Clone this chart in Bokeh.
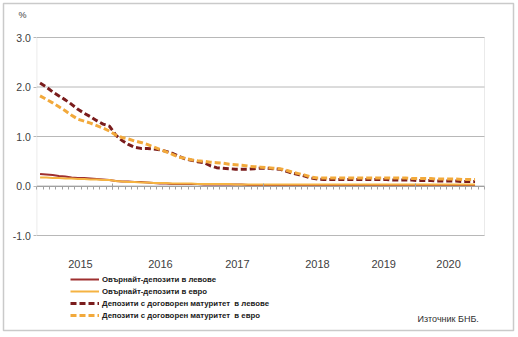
from bokeh.plotting import figure
from bokeh.models import (Range1d, LinearAxis, FixedTicker, Legend, LegendItem,
                          Label, BoxAnnotation, ColumnDataSource, NumeralTickFormatter)
from bokeh.embed import file_html
from bokeh.resources import INLINE

# month index: 0 = Jan 2015
ovn_bgn = [0.24, 0.23, 0.22, 0.20, 0.19, 0.17, 0.16, 0.16, 0.15, 0.14, 0.13, 0.12,
           0.10, 0.09, 0.09, 0.08, 0.08, 0.07, 0.06, 0.05, 0.05, 0.04, 0.04, 0.04,
           0.04, 0.04, 0.03, 0.03, 0.03, 0.03, 0.03, 0.03, 0.03, 0.02, 0.02, 0.02,
           0.02, 0.02, 0.02, 0.02, 0.02, 0.02, 0.02, 0.02, 0.02, 0.02, 0.02, 0.02,
           0.02, 0.02, 0.02, 0.02, 0.02, 0.02, 0.02, 0.02, 0.02, 0.02, 0.02, 0.02,
           0.01, 0.01, 0.01, 0.01, 0.01, 0.01, 0.01, 0.01, 0.01, 0.01]
ovn_eur = [0.17, 0.17, 0.16, 0.16, 0.15, 0.15, 0.14, 0.14, 0.13, 0.13, 0.12, 0.12,
           0.10, 0.09, 0.08, 0.08, 0.07, 0.07, 0.06, 0.06, 0.06, 0.05, 0.05, 0.05,
           0.05, 0.04, 0.04, 0.04, 0.04, 0.04, 0.04, 0.03, 0.03, 0.03, 0.03, 0.03,
           0.03, 0.03, 0.03, 0.03, 0.03, 0.03, 0.03, 0.03, 0.03, 0.03, 0.03, 0.03,
           0.03, 0.03, 0.03, 0.03, 0.03, 0.03, 0.03, 0.03, 0.03, 0.03, 0.03, 0.03,
           0.03, 0.03, 0.03, 0.03, 0.03, 0.03, 0.03, 0.03, 0.03, 0.03]
term_bgn = [2.08, 2.00, 1.90, 1.82, 1.74, 1.65, 1.55, 1.47, 1.40, 1.32, 1.25, 1.21,
            1.03, 0.92, 0.84, 0.78, 0.76, 0.76, 0.75, 0.73, 0.70, 0.66, 0.60, 0.55,
            0.52, 0.49, 0.47, 0.41, 0.37, 0.36, 0.35, 0.34, 0.34, 0.34, 0.35, 0.36,
            0.36, 0.35, 0.34, 0.30, 0.26, 0.23, 0.20, 0.16, 0.14, 0.13, 0.13, 0.13,
            0.13, 0.13, 0.13, 0.13, 0.13, 0.13, 0.13, 0.13, 0.12, 0.12, 0.12, 0.12,
            0.11, 0.11, 0.11, 0.10, 0.10, 0.10, 0.10, 0.09, 0.09, 0.09]
term_eur = [1.82, 1.75, 1.68, 1.60, 1.52, 1.43, 1.35, 1.31, 1.27, 1.22, 1.17, 1.11,
            1.03, 0.98, 0.95, 0.91, 0.88, 0.84, 0.79, 0.74, 0.69, 0.64, 0.58, 0.56,
            0.53, 0.51, 0.50, 0.48, 0.47, 0.46, 0.44, 0.43, 0.42, 0.40, 0.39, 0.38,
            0.37, 0.36, 0.35, 0.32, 0.28, 0.25, 0.22, 0.18, 0.16, 0.16, 0.16, 0.16,
            0.16, 0.16, 0.16, 0.16, 0.16, 0.16, 0.16, 0.16, 0.16, 0.16, 0.16, 0.15,
            0.15, 0.15, 0.15, 0.14, 0.14, 0.14, 0.14, 0.13, 0.13, 0.13]
months = [m + 0.5 for m in range(len(term_bgn))]

year_labels = ["2015", "2016", "2017", "2018", "2019", "2020"]
year_pos = [6.9, 19.6, 31.8, 44.5, 55.0, 65.3]
y_ticks = [-1, 0, 1, 2, 3]

series_names = ["Овърнайт-депозити в левове", "Овърнайт-депозити в евро",
                "Депозити с договорен матуритет  в левове",
                "Депозити с договорен матуритет  в евро"]

FONT = "Liberation Sans"
TXT = "#404040"
GRID = "#b8b8b8"

# plot box spans months 0..71 and values -1..3
X_LO, X_HI = 0, 71
Y_LO, Y_HI = -1, 3
W, H = 518, 337
box_l, box_r, box_t, box_b = 36.4, 484.0, 37.0, 235.0   # pixel placement of the box
sx = (box_r - box_l) / (X_HI - X_LO)
sy = (box_b - box_t) / (Y_HI - Y_LO)
x_range = Range1d(X_LO - box_l / sx, X_HI + (W - box_r) / sx)
y_range = Range1d(Y_LO - (H - box_b) / sy, Y_HI + box_t / sy)

p = figure(width=W, height=H, output_backend="svg", toolbar_location=None,
           x_range=x_range, y_range=y_range,
           min_border=0, min_border_left=0, min_border_right=0,
           min_border_top=0, min_border_bottom=0,
           x_axis_location=None, y_axis_location=None)
p.background_fill_color = "white"
p.border_fill_color = "white"
p.outline_line_color = None
p.xgrid.visible = False
p.ygrid.visible = False

# grid lines inside the box
p.segment(x0=[X_LO] * len(y_ticks), x1=[X_HI] * len(y_ticks), y0=y_ticks, y1=y_ticks,
          line_color=GRID, line_width=1)

# box outline
p.add_layout(BoxAnnotation(left=X_LO, right=X_HI, bottom=Y_LO, top=Y_HI,
                           fill_alpha=0, line_color=GRID, line_width=1))

# y axis
ya = LinearAxis(fixed_location=X_LO, ticker=FixedTicker(ticks=y_ticks),
                formatter=NumeralTickFormatter(format="0.0"), bounds=(Y_LO, Y_HI))
ya.axis_line_color = None
ya.major_tick_line_color = GRID
ya.major_tick_in = 0
ya.major_tick_out = 3
ya.minor_tick_line_color = None
ya.major_label_text_font = FONT
ya.major_label_text_font_size = "10.5px"
ya.major_label_text_color = TXT
ya.major_label_standoff = 3
p.add_layout(ya, "left")

# year labels axis
xa = LinearAxis(fixed_location=Y_LO, ticker=FixedTicker(ticks=year_pos),
                major_label_overrides={pos: lab for pos, lab in zip(year_pos, year_labels)})
xa.axis_line_color = None
xa.major_tick_line_color = None
xa.minor_tick_line_color = None
xa.major_label_text_font = FONT
xa.major_label_text_font_size = "11px"
xa.major_label_text_color = TXT
xa.major_label_standoff = 18
p.add_layout(xa, "below")

# zero axis with ticks
za = LinearAxis(fixed_location=0, bounds=(X_LO, X_HI),
                ticker=FixedTicker(ticks=[12, 36, 60], minor_ticks=list(range(X_LO, X_HI + 1))))
za.axis_line_color = "#a0a0a0"
za.major_tick_line_color = "#a0a0a0"
za.minor_tick_line_color = "#a0a0a0"
za.major_tick_in = 3
za.major_tick_out = 3
za.minor_tick_in = 0
za.minor_tick_out = 3
za.major_label_text_font_size = "0px"
za.major_label_text_alpha = 0
p.add_layout(za, "below")

src = ColumnDataSource(dict(x=months, a=ovn_bgn, b=ovn_eur, c=term_bgn, d=term_eur))
r1 = p.line("x", "a", source=src, line_color="#9e2f2f", line_width=2)
r2 = p.line("x", "b", source=src, line_color="#f5b342", line_width=2)
r3 = p.line("x", "c", source=src, line_color="#7a1c1c", line_width=3, line_dash="6 3")
r4 = p.line("x", "d", source=src, line_color="#f2a93b", line_width=3, line_dash="6 3")

legend = Legend(items=[LegendItem(label=n, renderers=[r]) for n, r in
                       zip(series_names, [r1, r2, r3, r4])],
                location=(70, 16), orientation="vertical")
legend.padding = 0
legend.spacing = 0
legend.margin = 0
legend.glyph_width = 29
legend.glyph_height = 12
legend.label_height = 12
legend.label_standoff = 3
legend.label_text_font = FONT
legend.label_text_font_size = "7.8px"
legend.label_text_font_style = "bold"
legend.label_text_color = "#202020"
legend.border_line_color = None
legend.background_fill_alpha = 0
p.add_layout(legend, "center")

p.add_layout(Label(x=18, y=318, x_units="screen", y_units="screen", text="%",
                   text_font=FONT, text_font_size="9px", text_color=TXT))
p.add_layout(Label(x=417, y=14, x_units="screen", y_units="screen", text="Източник БНБ.",
                   text_font=FONT, text_font_size="9px", text_color="#303030"))

p.add_layout(BoxAnnotation(left=3, right=513, top=3, bottom=330,
                           left_units="canvas", right_units="canvas",
                           top_units="canvas", bottom_units="canvas",
                           fill_alpha=0, line_color="#505050", line_width=1.5))

open("out.html", "w").write(file_html(p, INLINE))
